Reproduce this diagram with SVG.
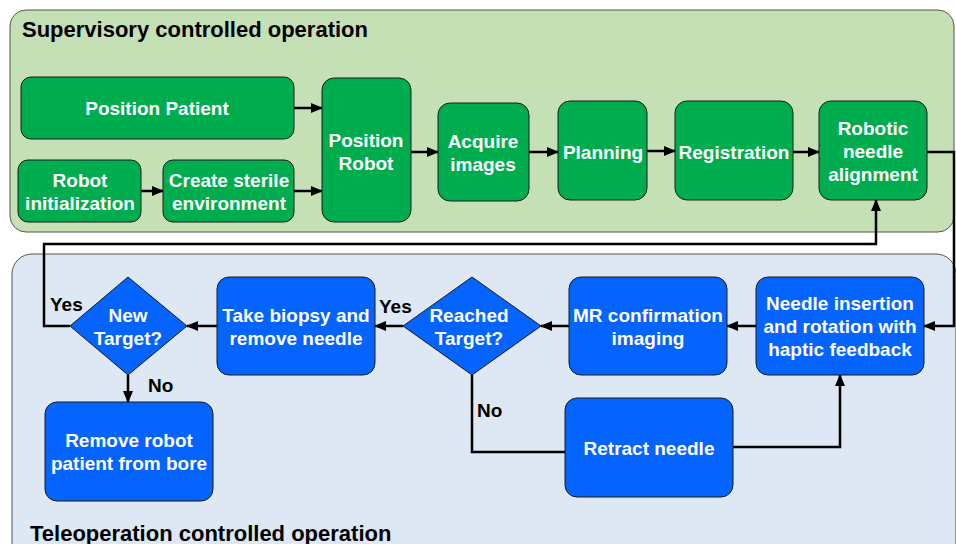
<svg xmlns="http://www.w3.org/2000/svg" width="956" height="544" viewBox="0 0 956 544">
<defs>
<marker id="ah" markerUnits="userSpaceOnUse" markerWidth="12" markerHeight="10" refX="11" refY="5" orient="auto">
<path d="M0,0 L12,5 L0,10 Z" fill="#000"/>
</marker>
<style>
.panelG{fill:#c5e0b4;stroke:#555;stroke-width:1}
.panelB{fill:#dde8f4;stroke:#555;stroke-width:1}
.g{fill:#00ad4e;stroke:#1a1a1a;stroke-width:1}
.b{fill:#0563fe;stroke:#1a1a1a;stroke-width:1}
.t{font-family:"Liberation Sans",Arial,sans-serif;font-weight:bold;font-size:19px;fill:#fff;text-anchor:middle}
.h{font-family:"Liberation Sans",Arial,sans-serif;font-weight:bold;font-size:22px;fill:#000}
.l{font-family:"Liberation Sans",Arial,sans-serif;font-weight:bold;font-size:19px;fill:#000}
.c{fill:none;stroke:#000;stroke-width:2.5}
</style>
</defs>
<g id="panel-supervisory">
<rect class="panelG" x="10" y="10" width="944" height="222" rx="16"/>
<text class="h" x="22" y="37">Supervisory controlled operation</text>
</g>
<g id="panel-teleoperation">
<rect class="panelB" x="12" y="254" width="944" height="310" rx="20"/>
<text class="h" x="30" y="541">Teleoperation controlled operation</text>
</g>
<g id="connectors">
<path class="c" d="M294,108 L322,108" marker-end="url(#ah)"/>
<path class="c" d="M141,191 L163,191" marker-end="url(#ah)"/>
<path class="c" d="M294,191 L322,191" marker-end="url(#ah)"/>
<path class="c" d="M411,152 L438,152" marker-end="url(#ah)"/>
<path class="c" d="M529,152 L558,152" marker-end="url(#ah)"/>
<path class="c" d="M647,151 L675,151" marker-end="url(#ah)"/>
<path class="c" d="M793,152 L819,152" marker-end="url(#ah)"/>
<path class="c" d="M927,152 L954,152 L954,326 L924,326" marker-end="url(#ah)"/>
<path class="c" d="M756,326 L727,326" marker-end="url(#ah)"/>
<path class="c" d="M569,326 L541,326" marker-end="url(#ah)"/>
<path class="c" d="M403,326 L375,326" marker-end="url(#ah)"/>
<path class="c" d="M217,326 L187,326" marker-end="url(#ah)"/>
<path class="c" d="M128,375 L128,402" marker-end="url(#ah)"/>
<path class="c" d="M70,326 L44,326 L44,244 L876,244 L876,200" marker-end="url(#ah)"/>
<path class="c" d="M472,375 L472,452 L565,452"/>
<path class="c" d="M733,447 L840,447 L840,375" marker-end="url(#ah)"/>
<text class="l" x="50" y="311">Yes</text>
<text class="l" x="379" y="313">Yes</text>
<text class="l" x="148" y="392">No</text>
<text class="l" x="477" y="417">No</text>
</g>
<g id="position-patient">
<rect class="g" x="21" y="77" width="273" height="62" rx="10"/>
<text class="t" x="157" y="115">Position Patient</text>
</g>
<g id="robot-initialization">
<rect class="g" x="18" y="160" width="123" height="62" rx="10"/>
<text class="t" x="80" y="187">Robot</text>
<text class="t" x="80" y="210">initialization</text>
</g>
<g id="create-sterile">
<rect class="g" x="163" y="160" width="131" height="62" rx="10"/>
<text class="t" x="229" y="187">Create sterile</text>
<text class="t" x="229" y="210">environment</text>
</g>
<g id="position-robot">
<rect class="g" x="322" y="78" width="89" height="144" rx="12"/>
<text class="t" x="366" y="147">Position</text>
<text class="t" x="366" y="170">Robot</text>
</g>
<g id="acquire-images">
<rect class="g" x="438" y="103" width="91" height="98" rx="12"/>
<text class="t" x="483" y="148">Acquire</text>
<text class="t" x="483" y="171">images</text>
</g>
<g id="planning">
<rect class="g" x="558" y="101" width="89" height="99" rx="12"/>
<text class="t" x="603" y="159">Planning</text>
</g>
<g id="registration">
<rect class="g" x="675" y="101" width="118" height="99" rx="12"/>
<text class="t" x="734" y="159">Registration</text>
</g>
<g id="robotic-needle-alignment">
<rect class="g" x="819" y="101" width="108" height="99" rx="12"/>
<text class="t" x="873" y="135">Robotic</text>
<text class="t" x="873" y="158">needle</text>
<text class="t" x="873" y="181">alignment</text>
</g>
<g id="needle-insertion">
<rect class="b" x="756" y="277" width="168" height="98" rx="12"/>
<text class="t" x="840" y="310">Needle insertion</text>
<text class="t" x="840" y="333">and rotation with</text>
<text class="t" x="840" y="356">haptic feedback</text>
</g>
<g id="mr-confirmation">
<rect class="b" x="569" y="277" width="158" height="98" rx="12"/>
<text class="t" x="648" y="322">MR confirmation</text>
<text class="t" x="648" y="345">imaging</text>
</g>
<g id="reached-target">
<polygon class="b" points="472,277 541,326 472,375 403,326"/>
<text class="t" x="469" y="322">Reached</text>
<text class="t" x="469" y="345">Target?</text>
</g>
<g id="take-biopsy">
<rect class="b" x="217" y="277" width="158" height="98" rx="12"/>
<text class="t" x="296" y="322">Take biopsy and</text>
<text class="t" x="296" y="345">remove needle</text>
</g>
<g id="new-target">
<polygon class="b" points="128,277 187,326 128,375 70,326"/>
<text class="t" x="128" y="322">New</text>
<text class="t" x="128" y="345">Target?</text>
</g>
<g id="retract-needle">
<rect class="b" x="565" y="398" width="168" height="99" rx="12"/>
<text class="t" x="649" y="455">Retract needle</text>
</g>
<g id="remove-robot">
<rect class="b" x="45" y="402" width="168" height="99" rx="12"/>
<text class="t" x="129" y="447">Remove robot</text>
<text class="t" x="129" y="470">patient from bore</text>
</g>
</svg>
